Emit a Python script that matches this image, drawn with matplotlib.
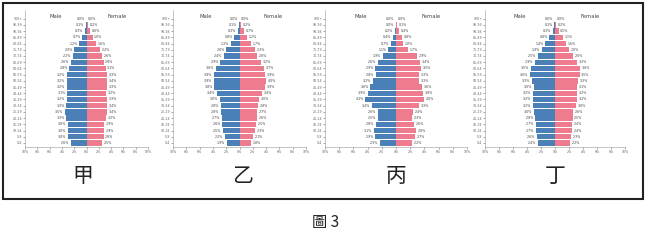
import matplotlib
matplotlib.use("Agg")
import matplotlib.pyplot as plt
import numpy as np
from matplotlib.patches import Rectangle

plt.rcParams['font.family'] = ['DejaVu Sans', 'Noto Sans CJK TC']

W, H = 649, 242

ages = ['0-4', '5-9', '10-14', '15-19', '20-24', '25-29', '30-34', '35-39',
        '40-44', '45-49', '50-54', '55-59', '60-64', '65-69', '70-74',
        '75-79', '80-84', '85-89', '90-94', '95-99', '100+']

# percentages, youngest group first
jia_male = [2.6, 3.0, 3.0, 3.0, 3.3, 3.5, 3.3, 3.2, 3.1, 3.2, 3.2, 3.2, 2.8, 2.6, 2.2, 2.0, 1.2, 0.7, 0.3, 0.1, 0.0]
jia_female = [2.5, 2.8, 2.9, 2.9, 3.2, 3.4, 3.4, 3.3, 3.2, 3.3, 3.4, 3.3, 3.1, 2.8, 2.6, 2.2, 1.6, 1.0, 0.6, 0.2, 0.0]

yi_male = [1.9, 2.2, 2.5, 2.6, 2.7, 2.8, 2.8, 3.0, 3.4, 3.8, 3.9, 3.9, 3.6, 2.9, 2.4, 2.0, 1.3, 0.8, 0.3, 0.1, 0.0]
yi_female = [1.8, 2.1, 2.3, 2.5, 2.6, 2.7, 2.8, 3.0, 3.4, 3.9, 4.0, 3.9, 3.7, 3.2, 2.6, 2.3, 1.7, 1.2, 0.7, 0.2, 0.0]

bing_male = [2.3, 2.9, 3.1, 2.8, 2.5, 2.6, 3.4, 4.3, 3.9, 3.6, 3.2, 2.8, 2.9, 2.6, 1.9, 1.1, 0.7, 0.4, 0.2, 0.0, 0.0]
bing_female = [2.2, 2.7, 2.8, 2.6, 2.3, 2.4, 3.3, 4.0, 3.8, 3.6, 3.3, 3.3, 3.5, 3.4, 2.9, 1.7, 1.0, 0.8, 0.4, 0.1, 0.0]

ding_male = [2.4, 2.6, 2.7, 2.7, 2.8, 3.0, 3.2, 3.2, 3.2, 3.0, 3.3, 3.6, 3.5, 2.9, 2.5, 1.9, 1.4, 0.8, 0.3, 0.1, 0.0]
ding_female = [2.2, 2.3, 2.4, 2.4, 2.5, 2.6, 3.0, 3.2, 3.2, 3.1, 3.3, 3.5, 3.6, 3.2, 2.6, 2.0, 1.6, 1.1, 0.5, 0.2, 0.0]

names = ['甲', '乙', '丙', '丁']
males = [jia_male, yi_male, bing_male, ding_male]
females = [jia_female, yi_female, bing_female, ding_female]

# pixel spans of each pyramid (-10% .. 10%) and where its name sits
spans = [(25, 148), (173, 306), (325, 467), (485, 625)]
name_x = [83, 243, 396, 555]
top_px, bot_px = 10, 147

blue = '#4a7fb8'
pink = '#ef7b8e'

fig = plt.figure(figsize=(W / 100, H / 100), dpi=100)

y = np.arange(len(ages))
ticks = np.arange(-10, 11, 2)

for name, m, f, (x0, x1), nx in zip(names, males, females, spans, name_x):
    ax = fig.add_axes([x0 / W, 1 - bot_px / H, (x1 - x0) / W, (bot_px - top_px) / H])
    m = np.array(m)
    f = np.array(f)
    ax.barh(y, -m, height=0.86, color=blue)
    ax.barh(y, f, height=0.86, color=pink)
    for yi, v in zip(y, m):
        ax.text(-v - 0.25, yi, f'{v:.1f}%', ha='right', va='center', fontsize=2.3, color='#444')
    for yi, v in zip(y, f):
        ax.text(v + 0.25, yi, f'{v:.1f}%', ha='left', va='center', fontsize=2.3, color='#444')
    ax.text(-5, 20.4, 'Male', ha='center', va='center', fontsize=3.8, color='#444')
    ax.text(5, 20.4, 'Female', ha='center', va='center', fontsize=3.8, color='#444')
    ax.set_xlim(-10, 10)
    ax.set_ylim(-0.65, 21.4)
    ax.set_xticks(ticks)
    ax.set_xticklabels([f'{abs(t)}%' for t in ticks])
    ax.set_yticks(y)
    ax.set_yticklabels(ages)
    ax.tick_params(labelsize=2.3, length=1.2, width=0.4, pad=0.8, colors='#666')
    for s in ['top', 'right']:
        ax.spines[s].set_visible(False)
    for s in ['left', 'bottom']:
        ax.spines[s].set_linewidth(0.4)
        ax.spines[s].set_color('#999')
    ax.patch.set_alpha(0)
    fig.text(nx / W, 1 - 176 / H, name, ha='center', va='center', fontsize=15,
             family=['Noto Sans CJK TC'], color='#222')

# frame around the four pyramids
fig.patches.append(Rectangle((3 / W, 1 - 199 / H), 640 / W, 196 / H, transform=fig.transFigure,
                             fill=False, edgecolor='#222', linewidth=1.5))

fig.text(326 / W, 1 - 222 / H, '圖 3', ha='center', va='center', fontsize=11,
         family=['Noto Sans CJK TC'], color='#222')

fig.savefig('out.png', dpi=100)
